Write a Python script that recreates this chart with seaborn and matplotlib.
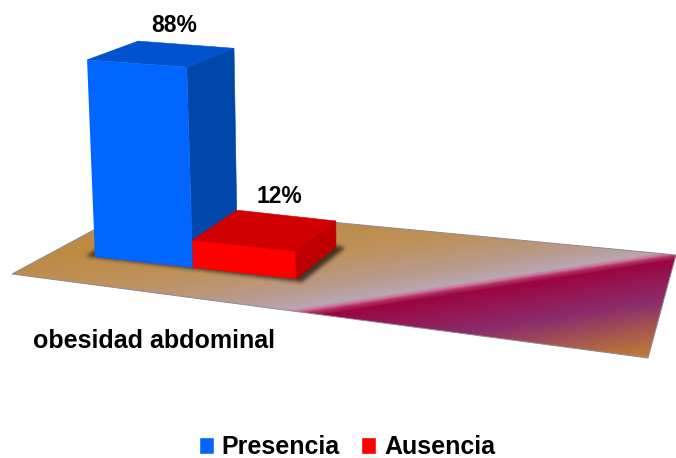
import numpy as np
import pandas as pd
import matplotlib
matplotlib.use("Agg")
import matplotlib.pyplot as plt
from matplotlib.patches import Polygon
from matplotlib.path import Path
from matplotlib.transforms import Transform
import seaborn as sns

categories = ["obesidad abdominal"]
series = ["Presencia", "Ausencia"]
values = [88, 12]
value_labels = ["88%", "12%"]

W, H = 676, 458
FONT = "Liberation Sans"

front_colors = ["#0066FF", "#FF0000"]
side_colors = ["#0047AA", "#BE0000"]
top_colors = ["#0052CE", "#D00000"]

# Oblique view: base corners of the bar group on the floor, in canvas pixels.
BASE_FL = np.array([95.0, 257.0])
BASE_FR = np.array([296.0, 279.0])
BASE_BR = np.array([336.0, 247.0])
BASE_BL = np.array([143.0, 225.0])
X_HALF = 0.4


def project(x, z, d):
    """Map bar coordinates (x, value, depth 0..1) to canvas pixels."""
    x, z, d = np.asarray(x, float), np.asarray(z, float), np.asarray(d, float)
    s = (x + X_HALF) / (2 * X_HALF)
    s = s - 0.05 * s * (1 - s)
    px = (1 - d) * ((1 - s) * BASE_FL[0] + s * BASE_FR[0]) + d * ((1 - s) * BASE_BL[0] + s * BASE_BR[0])
    py = (1 - d) * ((1 - s) * BASE_FL[1] + s * BASE_FR[1]) + d * ((1 - s) * BASE_BL[1] + s * BASE_BR[1])
    px = px + z * (-0.07 + 0.05 * x + 0.035 * d)
    py = py - z * (2.28 + 0.1 * x - 0.15 * d)
    return np.stack([px, py], axis=-1)


class FrontFace(Transform):
    """Sends the (x, value) plane of the bars onto their front faces."""
    input_dims = 2
    output_dims = 2

    def transform_non_affine(self, values):
        values = np.asarray(values)
        return project(values[:, 0], values[:, 1], np.zeros(len(values)))


def floor_image():
    corners = np.array([[12, 274], [648, 358], [676, 255], [142, 204]], float)
    unit = np.array([[0, 0], [1, 0], [1, 1], [0, 1]], float)
    # Homography from canvas pixels to the floor's unit square
    A, b = [], []
    for (px, py), (u, v) in zip(corners, unit):
        A.append([px, py, 1, 0, 0, 0, -u * px, -u * py])
        A.append([0, 0, 0, px, py, 1, -v * px, -v * py])
        b += [u, v]
    h = np.linalg.solve(np.array(A), np.array(b))
    gx, gy = np.meshgrid(np.arange(W) + 0.5, np.arange(H) + 0.5)
    den = h[6] * gx + h[7] * gy + 1
    u = (h[0] * gx + h[1] * gy + h[2]) / den
    v = (h[3] * gx + h[4] * gy + h[5]) / den
    t = u - 0.48 * v - 0.52

    stops = [-1.0, -0.62, -0.34, -0.16, -0.03, -0.012, 0.004, 0.03, 0.24, 0.48]
    reds = [190, 190, 190, 186, 184, 205, 175, 155, 140, 192]
    greens = [135, 138, 146, 152, 166, 115, 50, 5, 45, 128]
    blues = [58, 68, 92, 132, 176, 155, 100, 65, 108, 52]
    img = np.dstack([np.interp(t, stops, c) for c in (reds, greens, blues)]) / 255.0

    # Soft shadow cast by the bars onto the floor
    outline = np.array([BASE_FL, BASE_FR, BASE_BR, BASE_BL]) + np.array(
        [[-10.0, -1.0], [6.0, 3.0], [10.0, 0.0], [0.0, 0.0]])
    mask = Path(outline).contains_points(np.c_[gx.ravel(), gy.ravel()]).reshape(gx.shape).astype(float)
    kernel = np.ones(5) / 5
    for _ in range(2):
        mask = np.apply_along_axis(lambda r: np.convolve(r, kernel, mode="same"), 0, mask)
        mask = np.apply_along_axis(lambda r: np.convolve(r, kernel, mode="same"), 1, mask)
    img = img * (1 - 0.65 * mask[..., None])
    return img, corners


sns.set_theme(style="white")
plt.rcParams["font.family"] = [FONT, "DejaVu Sans"]

fig = plt.figure(figsize=(W / 100, H / 100), dpi=100, facecolor="white")

# Pixel canvas carrying the floor and the text
canvas = fig.add_axes([0, 0, 1, 1], zorder=1)
canvas.axis("off")
img, floor_corners = floor_image()
im = canvas.imshow(img, extent=(0, W, H, 0), aspect="auto", interpolation="bilinear", zorder=1)
canvas.set_xlim(0, W)
canvas.set_ylim(H, 0)
floor = Polygon(floor_corners, closed=True, facecolor="none", edgecolor="#8A8A96",
                linewidth=0.7, transform=canvas.transData, zorder=2)
canvas.add_patch(floor)
im.set_clip_path(floor)

# Bars: seaborn computes their extents, and the faces are derived from those
ax = fig.add_axes([0, 0, 1, 1], zorder=2)
ax.patch.set_alpha(0)
df = pd.DataFrame({"grupo": categories * len(series), "serie": series, "valor": values})
sns.barplot(data=df, x="grupo", y="valor", hue="serie", hue_order=series,
            palette=front_colors, width=2 * X_HALF, gap=0, saturation=1, ax=ax)
ax.set_ylim(0, 100)
ax.set_xlabel("")
ax.set_ylabel("")

to_pixels = FrontFace() + canvas.transData
bars = [c.patches[0] for c in ax.containers]
label_nudges = [(13, -29), (15, -34)]
for i, bar in enumerate(bars):
    x0, x1 = bar.get_x(), bar.get_x() + bar.get_width()
    z = bar.get_height()
    order = 3 + 2 * i
    bar.set_transform(to_pixels)
    bar.set_clip_on(False)
    bar.set_linewidth(0)
    bar.set_zorder(order + 1)
    top = project([x0, x1, x1, x0], [z] * 4, [0, 0, 1, 1])
    side = project([x1, x1, x1, x1], [0, z, z, 0], [0, 0, 1, 1])
    for pts, colour in [(side, side_colors[i]), (top, top_colors[i])]:
        ax.add_patch(Polygon(pts, closed=True, facecolor=colour, edgecolor=colour, linewidth=0.4,
                             transform=canvas.transData, zorder=order, clip_on=False))
    cx, cy = project((x0 + x1) / 2, z, 0.5)
    ax.text(cx + label_nudges[i][0], cy + label_nudges[i][1], value_labels[i],
            transform=canvas.transData, ha="center", va="center",
            fontsize=16.5, fontweight="bold", color="black", family=FONT, zorder=10)

canvas.text(33, 348, categories[0], ha="left", va="baseline", fontsize=18, fontweight="bold",
            color="black", family=FONT, zorder=5)

sns.move_legend(ax, "center", bbox_to_anchor=(0.513, 0.0235), bbox_transform=fig.transFigure,
                ncol=2, title=None, frameon=False, prop={"family": FONT, "weight": "bold", "size": 18},
                handlelength=0.62, handleheight=0.62, handletextpad=0.3, columnspacing=0.85,
                labelcolor="black")
ax.set_axis_off()
ax.get_legend().set_visible(True)

fig.savefig("out.png", dpi=100, facecolor="white")
